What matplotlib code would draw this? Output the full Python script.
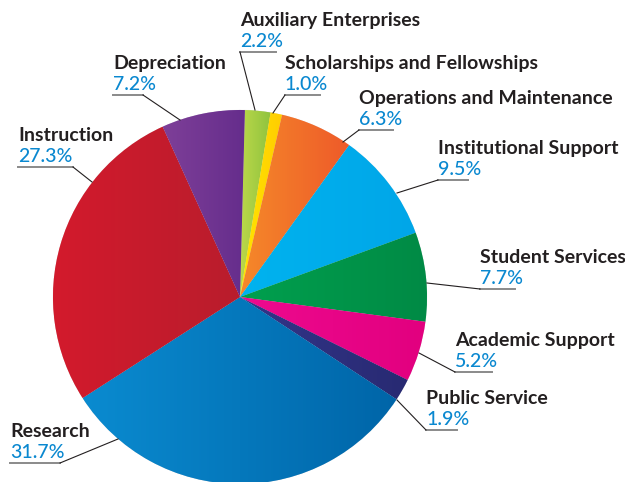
import numpy as np
import matplotlib
matplotlib.use("Agg")
import matplotlib.pyplot as plt
from matplotlib.colors import to_rgb, LinearSegmentedColormap

W, H = 625, 482

# data, clockwise from 12 o'clock
names = ["Auxiliary Enterprises", "Scholarships and Fellowships", "Operations and Maintenance",
         "Institutional Support", "Student Services", "Academic Support", "Public Service",
         "Research", "Instruction", "Depreciation"]
shares = [2.2, 1.0, 6.3, 9.5, 7.7, 5.2, 1.9, 31.7, 27.3, 7.2]
light = ["#bcd84a", "#ffe600", "#f5892a", "#00b3ef", "#00a04e", "#ee0a8f", "#33358a",
         "#0a8bd0", "#d31a2d", "#7e3f98"]
dark = ["#8fc33e", "#ffcc00", "#ee5a29", "#00a6e8", "#008a45", "#e2007f", "#282a72",
        "#0065a8", "#b91d2c", "#652d8c"]

# label placement in pixels: text x, underline y, underline length, leader end on pie
lab_x = [240, 285, 359, 438, 480, 455, 426, 10, 18, 113]
line_y = [52, 95, 130, 180, 289, 372, 430, 463, 167, 95]
line_len = [36, 35, 34, 30, 35, 37, 31, 50, 55, 30]
tip = [(255, 110), (273, 113), (343, 142), (397, 193), (427, 283),
       (419, 353), (397, 400), (118, 439), (92, 182), (180, 120)]
left_side = [False] * 7 + [True] * 3

cx, cy, R = 240, 297, 187

fig = plt.figure(figsize=(W / 100, H / 100), dpi=100)
ax = fig.add_axes([0, 0, 1, 1])
ax.set_xlim(0, W)
ax.set_ylim(0, H)
ax.axis("off")

wedges, _ = ax.pie(shares, startangle=88.5, counterclock=False, center=(cx, H - cy), radius=R,
                   wedgeprops=dict(linewidth=0.4, edgecolor="#f0f0f0"))

# horizontal gradient inside each slice
grad = np.linspace(0, 1, 256).reshape(1, -1)
for w, c1, c2 in zip(wedges, light, dark):
    bb = w.get_path().get_extents(w.get_patch_transform())
    cmap = LinearSegmentedColormap.from_list("g", [to_rgb(c1), to_rgb(c2)])
    im = ax.imshow(grad, cmap=cmap, extent=[bb.x0, bb.x1, bb.y0, bb.y1],
                   aspect="auto", zorder=w.get_zorder() + 0.1, interpolation="bilinear")
    im.set_clip_path(w)
    w.set_facecolor(c2)

ax.set_xlim(0, W)
ax.set_ylim(0, H)

fam = ["Lato", "DejaVu Sans"]
for i in range(len(names)):
    x, y, L = lab_x[i], line_y[i], line_len[i]
    ax.text(x, H - (y - 26), names[i], fontsize=14, fontweight="bold",
            color="#231f20", family=fam, va="baseline", ha="left", zorder=10)
    ax.text(x, H - (y - 5), f"{shares[i]}%", fontsize=14, fontweight="medium", color="#0a88d0",
            family=fam, va="baseline", ha="left", zorder=10)
    ax.plot([x, x + L], [H - y, H - y], color="#8a8a8a", lw=1.4, zorder=10)
    sx = x + L if left_side[i] else x
    ax.plot([sx, tip[i][0]], [H - y, H - tip[i][1]], color="#231f20", lw=0.8, zorder=10)

fig.savefig("out.png", dpi=100)
